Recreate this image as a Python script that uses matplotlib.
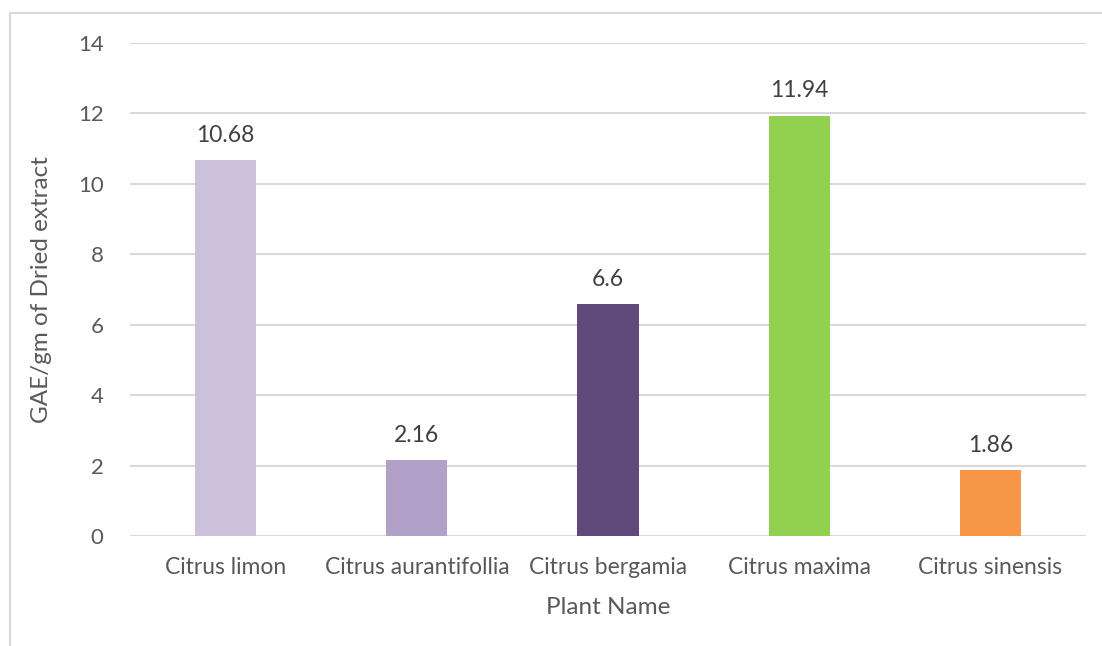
import matplotlib.pyplot as plt
from matplotlib.patches import Rectangle

# phenolic content per plant extract
plants = ["Citrus limon", "Citrus aurantifollia", "Citrus bergamia",
          "Citrus maxima", "Citrus sinensis"]
gae = [10.68, 2.16, 6.6, 11.94, 1.86]
labels = ["10.68", "2.16", "6.6", "11.94", "1.86"]
colors = ["#CCC1DA", "#B1A0C7", "#604A7B", "#92D050", "#F79646"]
yticks = [0, 2, 4, 6, 8, 10, 12, 14]

plt.rcParams["font.family"] = ["Lato", "DejaVu Sans"]

fig = plt.figure(figsize=(11.02, 6.46), dpi=100)
ax = fig.add_axes([0.118, 0.1703, 0.8675, 0.7631])

# chart frame, partly running off the right and bottom edges
fig.patches.append(Rectangle((10 / 1102, -0.1), 1.2, 1 - 13 / 646 + 0.1,
                             transform=fig.transFigure, fill=False,
                             edgecolor="#D9D9D9", linewidth=1.5))

x = range(len(plants))
ax.bar(x, gae, width=0.32, color=colors, zorder=3)
for xi, v, t in zip(x, gae, labels):
    ax.text(xi, v + 0.4, t, ha="center", va="bottom", fontsize=16.5,
            color="#404040")

ax.set_xlim(-0.5, len(plants) - 0.5)
ax.set_ylim(0, 14)
ax.set_yticks(yticks)
ax.set_xticks(list(x))
ax.set_xticklabels(plants, fontsize=16.5)
ax.tick_params(axis="both", length=0, labelcolor="#595959")
ax.tick_params(axis="y", pad=19, labelsize=16)
ax.tick_params(axis="x", pad=15)
ax.yaxis.grid(True, color="#D9D9D9", linewidth=1.5, zorder=0)
for s in ax.spines.values():
    s.set_visible(False)

ax.set_xlabel("Plant Name", fontsize=17.5, color="#595959", labelpad=14)
ax.set_ylabel("GAE/gm of Dried extract", fontsize=17.5, color="#595959",
              labelpad=19)

fig.savefig("out.png", dpi=100)
